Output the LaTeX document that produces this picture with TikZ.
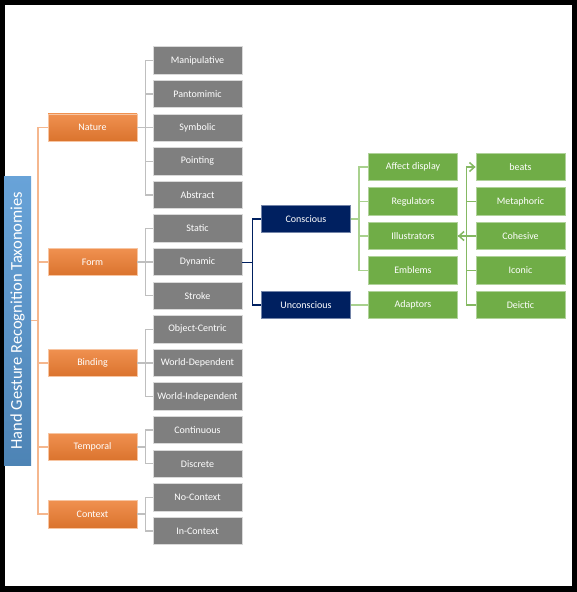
\documentclass[tikz,border=0pt]{standalone}
\usepackage{fontspec}
\setmainfont{Carlito}
\usetikzlibrary{arrows.meta, positioning, calc}

\definecolor{leafgray}{HTML}{7F7F7F}
\definecolor{catorange}{HTML}{ED7D31}
\definecolor{darknavy}{HTML}{002060}
\definecolor{leafgreen}{HTML}{70AD47}
\definecolor{palegreen}{HTML}{A9D18E}
\definecolor{titleblue}{HTML}{5B9BD5}

\tikzset{
  box/.style={minimum width=89pt, minimum height=27.5pt, inner sep=0pt, text=white,
    font=\fontsize{10}{12}\selectfont, line width=0.8pt},
  leaf/.style={box, fill=leafgray, draw=gray!30},
  cat/.style={box, top color=catorange!85!white, bottom color=catorange!92!black, draw=catorange!45},
  mode/.style={box, fill=darknavy, draw=darknavy!55},
  kind/.style={box, fill=leafgreen, draw=leafgreen!55},
  spine/.style={draw=catorange!55, line width=1.5pt},
  graylink/.style={draw=gray!50, line width=1.5pt},
  navylink/.style={draw=darknavy, line width=1.2pt},
  greenlink/.style={draw=palegreen, line width=1.5pt},
  barb/.style={draw=leafgreen!85, line width=1.5pt},
}

\begin{document}
\begin{tikzpicture}[x=1pt, y=-1pt]
\useasboundingbox (0,0) rectangle (577,592);
% frame
\fill[black] (0,0) rectangle (577,592);
\fill[white] (4.5,4.5) rectangle (572,586);

% title
\node[rotate=90, top color=titleblue!92!white, bottom color=titleblue!85!black,
  text=white, minimum width=289pt, minimum height=27pt, inner sep=0pt,
  font=\fontsize{16.5}{18}\selectfont] (root) at (17.5,320.5) {Hand Gesture Recognition Taxonomies};

% gray leaves
\foreach \name/\txt [count=\i] in {manip/Manipulative, panto/Pantomimic, symb/Symbolic,
    point/Pointing, abstr/Abstract, static/Static, dynamic/Dynamic, stroke/Stroke,
    objc/Object-Centric, wdep/World-Dependent, windep/World-Independent,
    contin/Continuous, discr/Discrete, nocont/No-Context, incont/In-Context} {
  \node[leaf] (\name) at (197.5, 60.5+33.6*\i-33.6) {\txt};
}

% categories
\node[cat] (nature) at (92.5,127.7) {Nature};
\node[cat] (form) at (92.5,262.1) {Form};
\node[cat] (binding) at (92.5,363) {Binding};
\node[cat] (temporal) at (92.5,447) {Temporal};
\node[cat] (context) at (92.5,514.2) {Context};

% conscious / unconscious
\node[mode] (conscious) at (306,219) {Conscious};
\node[mode] (unconscious) at (306,305) {Unconscious};

% green kinds
\foreach \name/\txt [count=\i] in {affect/Affect display, regul/Regulators,
    illus/Illustrators, emblem/Emblems, adapt/Adaptors} {
  \node[kind] (\name) at (413, 167+34.5*\i-34.5) {\txt};
}
\foreach \name/\txt [count=\i] in {beats/beats, metaph/Metaphoric, cohes/Cohesive,
    iconic/Iconic, deictic/Deictic} {
  \node[kind] (\name) at (520.5, 167+34.5*\i-34.5) {\txt};
}

% links
\foreach \c in {nature,form,binding,temporal,context}
  \draw[spine] (root.south) -- ++(7,0) |- (\c.west);
\foreach \c in {manip,panto,symb,point,abstr}
  \draw[graylink] (nature.east) -- ++(8,0) |- (\c.west);
\foreach \c in {static,dynamic,stroke}
  \draw[graylink] (form.east) -- ++(8,0) |- (\c.west);
\foreach \c in {objc,wdep,windep}
  \draw[graylink] (binding.east) -- ++(8,0) |- (\c.west);
\foreach \c in {contin,discr}
  \draw[graylink] (temporal.east) -- ++(8,0) |- (\c.west);
\foreach \c in {nocont,incont}
  \draw[graylink] (context.east) -- ++(8,0) |- (\c.west);
\foreach \c in {conscious,unconscious}
  \draw[navylink] (dynamic.east) -- ++(10,0) |- (\c.west);
\foreach \c in {affect,regul,illus,emblem}
  \draw[greenlink] (conscious.east) -- ++(8,0) |- (\c.west);
\draw[greenlink] (unconscious) -- (adapt);
\foreach \c in {metaph,cohes,iconic,deictic}
  \draw[barb] (illus.east) -- ++(8.5,0) |- (\c.west);
\draw[barb, {Straight Barb[length=5pt,width=9pt]}-{Straight Barb[length=5pt,width=9pt]}]
  (illus.east) -- ++(8.5,0) |- (beats.west);
\end{tikzpicture}
\end{document}
